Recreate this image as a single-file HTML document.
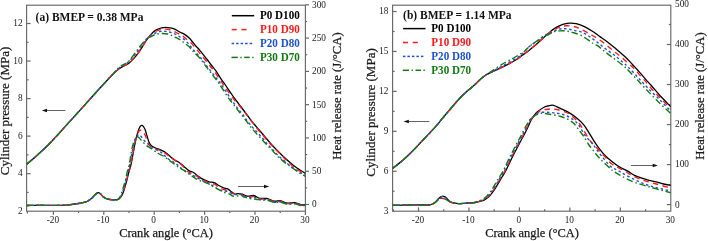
<!DOCTYPE html>
<html><head><meta charset="utf-8"><style>
html,body{margin:0;padding:0;background:#fff;width:708px;height:241px;overflow:hidden}
svg{display:block;will-change:transform}
text{font-family:"Liberation Serif", serif}
</style></head><body>
<svg width="708" height="241" viewBox="0 0 708 241">
<rect width="708" height="241" fill="#fff"/>
<rect x="26.60" y="5.20" width="278.80" height="206.00" fill="none" stroke="#686868" stroke-width="1.15"/>
<line x1="27.40" y1="211.20" x2="27.40" y2="213.40" stroke="#686868" stroke-width="1.2"/>
<line x1="53.40" y1="211.20" x2="53.40" y2="214.70" stroke="#686868" stroke-width="1.2"/>
<line x1="78.60" y1="211.20" x2="78.60" y2="213.00" stroke="#686868" stroke-width="1.2"/>
<line x1="103.80" y1="211.20" x2="103.80" y2="214.70" stroke="#686868" stroke-width="1.2"/>
<line x1="129.00" y1="211.20" x2="129.00" y2="213.00" stroke="#686868" stroke-width="1.2"/>
<line x1="154.20" y1="211.20" x2="154.20" y2="214.70" stroke="#686868" stroke-width="1.2"/>
<line x1="179.40" y1="211.20" x2="179.40" y2="213.00" stroke="#686868" stroke-width="1.2"/>
<line x1="204.60" y1="211.20" x2="204.60" y2="214.70" stroke="#686868" stroke-width="1.2"/>
<line x1="229.80" y1="211.20" x2="229.80" y2="213.00" stroke="#686868" stroke-width="1.2"/>
<line x1="255.00" y1="211.20" x2="255.00" y2="214.70" stroke="#686868" stroke-width="1.2"/>
<line x1="280.20" y1="211.20" x2="280.20" y2="213.00" stroke="#686868" stroke-width="1.2"/>
<line x1="305.40" y1="211.20" x2="305.40" y2="215.00" stroke="#686868" stroke-width="1.2"/>
<text x="52.90" y="222.60" font-size="9.3" text-anchor="middle" font-weight="normal" fill="#1a1a1a">-20</text>
<text x="103.30" y="222.60" font-size="9.3" text-anchor="middle" font-weight="normal" fill="#1a1a1a">-10</text>
<text x="153.70" y="222.60" font-size="9.3" text-anchor="middle" font-weight="normal" fill="#1a1a1a">0</text>
<text x="204.10" y="222.60" font-size="9.3" text-anchor="middle" font-weight="normal" fill="#1a1a1a">10</text>
<text x="254.50" y="222.60" font-size="9.3" text-anchor="middle" font-weight="normal" fill="#1a1a1a">20</text>
<text x="304.90" y="222.60" font-size="9.3" text-anchor="middle" font-weight="normal" fill="#1a1a1a">30</text>
<line x1="26.60" y1="192.43" x2="28.60" y2="192.43" stroke="#686868" stroke-width="1.2"/>
<line x1="26.60" y1="173.66" x2="30.60" y2="173.66" stroke="#686868" stroke-width="1.2"/>
<line x1="26.60" y1="154.89" x2="28.60" y2="154.89" stroke="#686868" stroke-width="1.2"/>
<line x1="26.60" y1="136.12" x2="30.60" y2="136.12" stroke="#686868" stroke-width="1.2"/>
<line x1="26.60" y1="117.35" x2="28.60" y2="117.35" stroke="#686868" stroke-width="1.2"/>
<line x1="26.60" y1="98.58" x2="30.60" y2="98.58" stroke="#686868" stroke-width="1.2"/>
<line x1="26.60" y1="79.81" x2="28.60" y2="79.81" stroke="#686868" stroke-width="1.2"/>
<line x1="26.60" y1="61.04" x2="30.60" y2="61.04" stroke="#686868" stroke-width="1.2"/>
<line x1="26.60" y1="42.27" x2="28.60" y2="42.27" stroke="#686868" stroke-width="1.2"/>
<line x1="26.60" y1="23.50" x2="30.60" y2="23.50" stroke="#686868" stroke-width="1.2"/>
<text x="22.60" y="214.00" font-size="9.3" text-anchor="end" font-weight="normal" fill="#1a1a1a">2</text>
<text x="22.60" y="176.46" font-size="9.3" text-anchor="end" font-weight="normal" fill="#1a1a1a">4</text>
<text x="22.60" y="138.92" font-size="9.3" text-anchor="end" font-weight="normal" fill="#1a1a1a">6</text>
<text x="22.60" y="101.38" font-size="9.3" text-anchor="end" font-weight="normal" fill="#1a1a1a">8</text>
<text x="22.60" y="63.84" font-size="9.3" text-anchor="end" font-weight="normal" fill="#1a1a1a">10</text>
<text x="22.60" y="26.30" font-size="9.3" text-anchor="end" font-weight="normal" fill="#1a1a1a">12</text>
<line x1="305.40" y1="204.50" x2="309.00" y2="204.50" stroke="#686868" stroke-width="1.2"/>
<line x1="305.40" y1="187.86" x2="307.20" y2="187.86" stroke="#686868" stroke-width="1.2"/>
<line x1="305.40" y1="171.22" x2="309.00" y2="171.22" stroke="#686868" stroke-width="1.2"/>
<line x1="305.40" y1="154.58" x2="307.20" y2="154.58" stroke="#686868" stroke-width="1.2"/>
<line x1="305.40" y1="137.94" x2="309.00" y2="137.94" stroke="#686868" stroke-width="1.2"/>
<line x1="305.40" y1="121.30" x2="307.20" y2="121.30" stroke="#686868" stroke-width="1.2"/>
<line x1="305.40" y1="104.66" x2="309.00" y2="104.66" stroke="#686868" stroke-width="1.2"/>
<line x1="305.40" y1="88.02" x2="307.20" y2="88.02" stroke="#686868" stroke-width="1.2"/>
<line x1="305.40" y1="71.38" x2="309.00" y2="71.38" stroke="#686868" stroke-width="1.2"/>
<line x1="305.40" y1="54.74" x2="307.20" y2="54.74" stroke="#686868" stroke-width="1.2"/>
<line x1="305.40" y1="38.10" x2="309.00" y2="38.10" stroke="#686868" stroke-width="1.2"/>
<line x1="305.40" y1="21.46" x2="307.20" y2="21.46" stroke="#686868" stroke-width="1.2"/>
<line x1="305.40" y1="4.82" x2="309.00" y2="4.82" stroke="#686868" stroke-width="1.2"/>
<text x="312.00" y="207.40" font-size="9.3" text-anchor="start" font-weight="normal" fill="#1a1a1a">0</text>
<text x="312.00" y="174.12" font-size="9.3" text-anchor="start" font-weight="normal" fill="#1a1a1a">50</text>
<text x="312.00" y="140.84" font-size="9.3" text-anchor="start" font-weight="normal" fill="#1a1a1a">100</text>
<text x="312.00" y="107.56" font-size="9.3" text-anchor="start" font-weight="normal" fill="#1a1a1a">150</text>
<text x="312.00" y="74.28" font-size="9.3" text-anchor="start" font-weight="normal" fill="#1a1a1a">200</text>
<text x="312.00" y="41.00" font-size="9.3" text-anchor="start" font-weight="normal" fill="#1a1a1a">250</text>
<text x="312.00" y="7.72" font-size="9.3" text-anchor="start" font-weight="normal" fill="#1a1a1a">300</text>
<text x="9.20" y="111.00" font-size="13" text-anchor="middle" font-weight="normal" fill="#1a1a1a" stroke="#1a1a1a" stroke-width="0.25" transform="rotate(-90 9.20 111.00)">Cylinder pressure (MPa)</text>
<text x="341.20" y="96.00" font-size="12.7" text-anchor="middle" font-weight="normal" fill="#1a1a1a" stroke="#1a1a1a" stroke-width="0.25" transform="rotate(-90 341.20 96.00)">Heat release rate (J/°CA)</text>
<text x="166.00" y="237.40" font-size="12.4" text-anchor="middle" font-weight="normal" fill="#1a1a1a" stroke="#1a1a1a" stroke-width="0.25">Crank angle (°CA)</text>
<text x="35.60" y="20.90" font-size="11.5" text-anchor="start" font-weight="bold" fill="#111">(a) BMEP = 0.38 MPa</text>
<line x1="231.80" y1="15.70" x2="254.20" y2="15.70" stroke="#000000" stroke-width="1.5"/>
<text x="260.00" y="19.10" font-size="11.1" text-anchor="start" font-weight="bold" fill="#000000" transform="translate(260.00 19.10) scale(1 1.09) translate(-260.00 -19.10)">P0 D100</text>
<line x1="231.70" y1="29.60" x2="236.70" y2="29.60" stroke="#ff1a1a" stroke-width="1.5"/>
<line x1="241.40" y1="29.60" x2="246.50" y2="29.60" stroke="#ff1a1a" stroke-width="1.5"/>
<text x="260.00" y="33.00" font-size="11.1" text-anchor="start" font-weight="bold" fill="#ff1a1a" transform="translate(260.00 33.00) scale(1 1.09) translate(-260.00 -33.00)">P10 D90</text>
<line x1="231.60" y1="43.50" x2="234.10" y2="43.50" stroke="#1f52cc" stroke-width="1.5"/>
<line x1="236.10" y1="43.50" x2="238.60" y2="43.50" stroke="#1f52cc" stroke-width="1.5"/>
<line x1="240.60" y1="43.50" x2="243.10" y2="43.50" stroke="#1f52cc" stroke-width="1.5"/>
<line x1="245.10" y1="43.50" x2="247.60" y2="43.50" stroke="#1f52cc" stroke-width="1.5"/>
<line x1="249.60" y1="43.50" x2="252.10" y2="43.50" stroke="#1f52cc" stroke-width="1.5"/>
<text x="260.00" y="46.90" font-size="11.1" text-anchor="start" font-weight="bold" fill="#1f52cc" transform="translate(260.00 46.90) scale(1 1.09) translate(-260.00 -46.90)">P20 D80</text>
<line x1="231.50" y1="57.40" x2="237.80" y2="57.40" stroke="#137a13" stroke-width="1.5"/>
<line x1="240.30" y1="57.40" x2="241.60" y2="57.40" stroke="#137a13" stroke-width="1.5"/>
<line x1="244.20" y1="57.40" x2="249.70" y2="57.40" stroke="#137a13" stroke-width="1.5"/>
<line x1="252.20" y1="57.40" x2="253.50" y2="57.40" stroke="#137a13" stroke-width="1.5"/>
<text x="260.00" y="60.80" font-size="11.1" text-anchor="start" font-weight="bold" fill="#137a13" transform="translate(260.00 60.80) scale(1 1.09) translate(-260.00 -60.80)">P30 D70</text>
<line x1="44.80" y1="110.50" x2="65.40" y2="110.50" stroke="#505050" stroke-width="0.9"/>
<path d="M41.80,110.50 L47.00,108.80 L47.00,112.20 Z" fill="#111"/>
<line x1="238.10" y1="186.50" x2="266.20" y2="186.50" stroke="#505050" stroke-width="0.9"/>
<path d="M269.20,186.50 L264.00,184.80 L264.00,188.20 Z" fill="#111"/>
<clipPath id="ca"><rect x="26.6" y="5.2" width="278.8" height="206"/></clipPath>
<clipPath id="cb"><rect x="392.6" y="5.2" width="278.2" height="206"/></clipPath>
<path d="M26.60,164.30 C28.42,162.73 33.62,158.42 37.50,154.90 C41.38,151.38 45.12,148.12 49.90,143.20 C54.68,138.28 61.08,131.00 66.20,125.40 C71.32,119.80 76.13,114.53 80.60,109.60 C85.07,104.67 89.35,99.85 93.00,95.80 C96.65,91.75 99.18,88.90 102.50,85.30 C105.82,81.70 110.20,76.90 112.90,74.20 C115.60,71.50 116.77,70.55 118.70,69.10 C120.63,67.65 122.80,66.47 124.50,65.50 C126.20,64.53 127.43,64.40 128.90,63.30 C130.37,62.20 131.85,60.48 133.30,58.90 C134.75,57.32 136.15,55.73 137.60,53.80 C139.05,51.87 140.68,49.35 142.00,47.30 C143.32,45.25 144.30,43.28 145.50,41.50 C146.70,39.72 147.90,38.20 149.20,36.60 C150.50,35.00 151.92,33.12 153.30,31.90 C154.68,30.68 156.12,29.98 157.50,29.30 C158.88,28.62 160.22,28.13 161.60,27.80 C162.98,27.47 164.42,27.30 165.80,27.30 C167.18,27.30 168.52,27.55 169.90,27.80 C171.28,28.05 172.75,28.27 174.10,28.80 C175.45,29.33 176.85,30.37 178.00,31.00 C179.15,31.63 179.83,32.00 181.00,32.60 C182.17,33.20 183.50,33.58 185.00,34.60 C186.50,35.62 188.33,36.97 190.00,38.70 C191.67,40.43 193.33,43.02 195.00,45.00 C196.67,46.98 198.33,48.62 200.00,50.60 C201.67,52.58 203.75,55.33 205.00,56.90 C206.25,58.47 206.47,58.65 207.50,60.00 C208.53,61.35 209.85,63.27 211.20,65.00 C212.55,66.73 214.13,68.35 215.60,70.40 C217.07,72.45 218.37,74.87 220.00,77.30 C221.63,79.73 223.37,82.05 225.40,85.00 C227.43,87.95 230.27,92.25 232.20,95.00 C234.13,97.75 235.45,99.42 237.00,101.50 C238.55,103.58 240.00,105.50 241.50,107.50 C243.00,109.50 244.53,111.52 246.00,113.50 C247.47,115.48 248.88,117.57 250.30,119.40 C251.72,121.23 253.02,122.73 254.50,124.50 C255.98,126.27 257.45,127.95 259.20,130.00 C260.95,132.05 263.10,134.55 265.00,136.80 C266.90,139.05 268.77,141.42 270.60,143.50 C272.43,145.58 274.10,147.35 276.00,149.30 C277.90,151.25 279.67,153.00 282.00,155.20 C284.33,157.40 287.63,160.45 290.00,162.50 C292.37,164.55 293.63,165.68 296.20,167.50 C298.77,169.32 303.87,172.42 305.40,173.40" fill="none" stroke="#000000" stroke-width="1.3" stroke-linejoin="round" clip-path="url(#ca)"/>
<path d="M26.60,164.30 C28.42,162.73 33.62,158.42 37.50,154.90 C41.38,151.38 45.12,148.12 49.90,143.20 C54.68,138.28 61.08,131.00 66.20,125.40 C71.32,119.80 76.13,114.53 80.60,109.60 C85.07,104.67 89.35,99.85 93.00,95.80 C96.65,91.75 99.18,88.90 102.50,85.30 C105.82,81.70 110.20,76.90 112.90,74.20 C115.60,71.50 116.77,70.55 118.70,69.10 C120.63,67.65 122.80,66.47 124.50,65.50 C126.20,64.53 127.43,64.40 128.90,63.30 C130.37,62.20 131.85,60.48 133.30,58.90 C134.75,57.32 136.15,55.73 137.60,53.80 C139.05,51.87 140.68,49.30 142.00,47.30 C143.32,45.30 144.42,43.43 145.50,41.80 C146.58,40.17 147.55,38.72 148.50,37.50 C149.45,36.28 150.05,35.52 151.20,34.50 C152.35,33.48 153.67,32.27 155.40,31.40 C157.13,30.53 159.87,29.68 161.60,29.30 C163.33,28.92 164.07,28.92 165.80,29.10 C167.53,29.28 170.27,29.83 172.00,30.40 C173.73,30.97 174.87,31.80 176.20,32.50 C177.53,33.20 178.95,34.05 180.00,34.60 C181.05,35.15 181.50,35.10 182.50,35.80 C183.50,36.50 184.55,37.58 186.00,38.80 C187.45,40.02 189.70,41.65 191.20,43.10 C192.70,44.55 193.75,46.03 195.00,47.50 C196.25,48.97 197.67,50.65 198.70,51.90 C199.73,53.15 199.95,53.48 201.20,55.00 C202.45,56.52 204.65,59.08 206.20,61.00 C207.75,62.92 209.12,64.77 210.50,66.50 C211.88,68.23 212.78,69.02 214.50,71.40 C216.22,73.78 218.88,77.95 220.80,80.80 C222.72,83.65 223.68,85.27 226.00,88.50 C228.32,91.73 231.77,96.52 234.70,100.20 C237.63,103.88 241.17,107.55 243.60,110.60 C246.03,113.65 246.90,115.35 249.30,118.50 C251.70,121.65 255.55,126.50 258.00,129.50 C260.45,132.50 262.00,134.17 264.00,136.50 C266.00,138.83 268.00,141.28 270.00,143.50 C272.00,145.72 274.00,147.75 276.00,149.80 C278.00,151.85 280.08,153.90 282.00,155.80 C283.92,157.70 285.13,159.00 287.50,161.20 C289.87,163.40 293.22,166.87 296.20,169.00 C299.18,171.13 303.87,173.17 305.40,174.00" fill="none" stroke="#ff1a1a" stroke-width="1.4" stroke-dasharray="5.5 4.3" stroke-linejoin="round" clip-path="url(#ca)"/>
<path d="M26.60,164.30 C28.42,162.73 33.62,158.42 37.50,154.90 C41.38,151.38 45.12,148.12 49.90,143.20 C54.68,138.28 61.08,131.00 66.20,125.40 C71.32,119.80 76.13,114.53 80.60,109.60 C85.07,104.67 89.35,99.85 93.00,95.80 C96.65,91.75 99.18,88.90 102.50,85.30 C105.82,81.70 110.20,77.00 112.90,74.20 C115.60,71.40 116.77,70.12 118.70,68.50 C120.63,66.88 122.80,65.67 124.50,64.50 C126.20,63.33 127.43,62.83 128.90,61.50 C130.37,60.17 131.85,58.25 133.30,56.50 C134.75,54.75 136.15,52.92 137.60,51.00 C139.05,49.08 140.60,46.92 142.00,45.00 C143.40,43.08 144.80,40.90 146.00,39.50 C147.20,38.10 148.20,37.43 149.20,36.60 C150.20,35.77 150.97,35.10 152.00,34.50 C153.03,33.90 153.97,33.52 155.40,33.00 C156.83,32.48 158.87,31.67 160.60,31.40 C162.33,31.13 164.07,31.22 165.80,31.40 C167.53,31.58 169.27,31.98 171.00,32.50 C172.73,33.02 174.70,33.75 176.20,34.50 C177.70,35.25 178.63,36.15 180.00,37.00 C181.37,37.85 182.95,38.43 184.40,39.60 C185.85,40.77 187.43,42.55 188.70,44.00 C189.97,45.45 190.75,46.80 192.00,48.30 C193.25,49.80 194.87,51.52 196.20,53.00 C197.53,54.48 198.77,55.77 200.00,57.20 C201.23,58.63 202.48,60.13 203.60,61.60 C204.72,63.07 205.57,64.50 206.70,66.00 C207.83,67.50 209.18,69.07 210.40,70.60 C211.62,72.13 212.88,73.77 214.00,75.20 C215.12,76.63 215.97,77.75 217.10,79.20 C218.23,80.65 219.48,82.10 220.80,83.90 C222.12,85.70 223.53,87.80 225.00,90.00 C226.47,92.20 228.32,95.17 229.60,97.10 C230.88,99.03 231.58,100.05 232.70,101.60 C233.82,103.15 235.18,104.90 236.30,106.40 C237.42,107.90 238.27,109.17 239.40,110.60 C240.53,112.03 241.97,113.53 243.10,115.00 C244.23,116.47 244.88,117.65 246.20,119.40 C247.52,121.15 249.18,123.35 251.00,125.50 C252.82,127.65 255.13,130.13 257.10,132.30 C259.07,134.47 261.25,136.72 262.80,138.50 C264.35,140.28 265.18,141.57 266.40,143.00 C267.62,144.43 268.80,145.72 270.10,147.10 C271.40,148.48 272.88,149.92 274.20,151.30 C275.52,152.68 276.62,154.05 278.00,155.40 C279.38,156.75 281.02,158.12 282.50,159.40 C283.98,160.68 285.45,161.85 286.90,163.10 C288.35,164.35 289.65,165.75 291.20,166.90 C292.75,168.05 294.53,168.97 296.20,170.00 C297.87,171.03 299.67,172.30 301.20,173.10 C302.73,173.90 304.70,174.52 305.40,174.80" fill="none" stroke="#1f52cc" stroke-width="1.4" stroke-dasharray="2.5 2.6" stroke-linejoin="round" clip-path="url(#ca)"/>
<path d="M26.60,164.30 C28.42,162.73 33.62,158.42 37.50,154.90 C41.38,151.38 45.12,148.12 49.90,143.20 C54.68,138.28 61.08,131.00 66.20,125.40 C71.32,119.80 76.13,114.53 80.60,109.60 C85.07,104.67 89.35,99.85 93.00,95.80 C96.65,91.75 99.18,88.90 102.50,85.30 C105.82,81.70 110.20,77.13 112.90,74.20 C115.60,71.27 116.77,69.40 118.70,67.70 C120.63,66.00 123.03,64.87 124.50,64.00 C125.97,63.13 126.28,63.58 127.50,62.50 C128.72,61.42 130.35,59.32 131.80,57.50 C133.25,55.68 134.75,53.55 136.20,51.60 C137.65,49.65 139.03,47.65 140.50,45.80 C141.97,43.95 143.75,41.77 145.00,40.50 C146.25,39.23 146.97,38.85 148.00,38.20 C149.03,37.55 149.97,37.22 151.20,36.60 C152.43,35.98 153.67,35.02 155.40,34.50 C157.13,33.98 159.53,33.58 161.60,33.50 C163.67,33.42 166.07,33.65 167.80,34.00 C169.53,34.35 170.60,34.98 172.00,35.60 C173.40,36.22 174.87,37.03 176.20,37.70 C177.53,38.37 178.75,38.80 180.00,39.60 C181.25,40.40 182.25,41.38 183.70,42.50 C185.15,43.62 187.32,45.05 188.70,46.30 C190.08,47.55 190.95,48.85 192.00,50.00 C193.05,51.15 193.67,51.82 195.00,53.20 C196.33,54.58 198.30,56.28 200.00,58.30 C201.70,60.32 203.73,63.35 205.20,65.30 C206.67,67.25 207.58,68.38 208.80,70.00 C210.02,71.62 211.37,73.52 212.50,75.00 C213.63,76.48 214.57,77.53 215.60,78.90 C216.63,80.27 217.47,81.43 218.70,83.20 C219.93,84.97 221.37,87.02 223.00,89.50 C224.63,91.98 226.97,95.88 228.50,98.10 C230.03,100.32 230.98,101.23 232.20,102.80 C233.42,104.37 234.75,106.13 235.80,107.50 C236.85,108.87 237.55,109.80 238.50,111.00 C239.45,112.20 240.40,113.30 241.50,114.70 C242.60,116.10 243.68,117.52 245.10,119.40 C246.52,121.28 248.18,123.72 250.00,126.00 C251.82,128.28 253.95,130.78 256.00,133.10 C258.05,135.42 260.38,137.82 262.30,139.90 C264.22,141.98 266.12,144.18 267.50,145.60 C268.88,147.02 269.43,147.20 270.60,148.40 C271.77,149.60 273.15,151.32 274.50,152.80 C275.85,154.28 277.37,156.00 278.70,157.30 C280.03,158.60 280.62,159.12 282.50,160.60 C284.38,162.08 288.13,164.85 290.00,166.20 C291.87,167.55 292.35,167.73 293.70,168.70 C295.05,169.67 296.80,171.07 298.10,172.00 C299.40,172.93 300.28,173.58 301.50,174.30 C302.72,175.02 304.75,175.97 305.40,176.30" fill="none" stroke="#137a13" stroke-width="1.4" stroke-dasharray="6.5 2.8 1.5 2.8" stroke-linejoin="round" clip-path="url(#ca)"/>
<path d="M26.60,205.50 C28.42,205.47 32.58,205.32 37.50,205.30 C42.42,205.28 52.15,205.40 56.10,205.40 C60.05,205.40 59.12,205.40 61.20,205.30 C63.28,205.20 66.30,205.02 68.60,204.80 C70.90,204.58 73.10,204.27 75.00,204.00 C76.90,203.73 78.15,203.55 80.00,203.20 C81.85,202.85 84.68,202.33 86.10,201.90 C87.52,201.47 87.72,201.08 88.50,200.60 C89.28,200.12 90.13,199.50 90.80,199.00 C91.47,198.50 91.87,198.23 92.50,197.60 C93.13,196.97 93.68,196.03 94.60,195.20 C95.52,194.37 97.02,192.82 98.00,192.60 C98.98,192.38 99.70,193.27 100.50,193.90 C101.30,194.53 101.93,195.67 102.80,196.40 C103.67,197.13 104.52,197.78 105.70,198.30 C106.88,198.82 108.37,199.25 109.90,199.50 C111.43,199.75 113.63,199.78 114.90,199.80 C116.17,199.82 116.65,199.92 117.50,199.60 C118.35,199.28 119.27,198.58 120.00,197.90 C120.73,197.22 121.28,196.65 121.90,195.50 C122.52,194.35 123.17,192.52 123.70,191.00 C124.23,189.48 124.57,188.23 125.10,186.40 C125.63,184.57 126.32,182.23 126.90,180.00 C127.48,177.77 127.92,175.58 128.60,173.00 C129.28,170.42 130.22,167.92 131.00,164.50 C131.78,161.08 132.72,155.58 133.30,152.50 C133.88,149.42 134.02,148.42 134.50,146.00 C134.98,143.58 135.57,140.57 136.20,138.00 C136.83,135.43 137.67,132.50 138.30,130.60 C138.93,128.70 139.43,127.48 140.00,126.60 C140.57,125.72 141.15,125.35 141.70,125.30 C142.25,125.25 142.75,125.63 143.30,126.30 C143.85,126.97 144.45,127.93 145.00,129.30 C145.55,130.67 145.92,132.30 146.60,134.50 C147.28,136.70 148.33,140.67 149.10,142.50 C149.87,144.33 150.53,144.80 151.20,145.50 C151.87,146.20 152.27,146.23 153.10,146.70 C153.93,147.17 154.98,147.77 156.20,148.30 C157.42,148.83 158.83,149.20 160.40,149.90 C161.97,150.60 164.05,151.47 165.60,152.50 C167.15,153.53 168.32,154.90 169.70,156.10 C171.08,157.30 172.52,158.75 173.90,159.70 C175.28,160.65 176.65,160.95 178.00,161.80 C179.35,162.65 180.97,163.98 182.00,164.80 C183.03,165.62 182.98,165.68 184.20,166.70 C185.42,167.72 187.75,169.93 189.30,170.90 C190.85,171.87 191.93,171.55 193.50,172.50 C195.07,173.45 196.97,175.40 198.70,176.60 C200.43,177.80 202.17,178.83 203.90,179.70 C205.63,180.57 207.38,181.32 209.10,181.80 C210.82,182.28 212.67,182.02 214.20,182.60 C215.73,183.18 216.75,184.42 218.30,185.30 C219.85,186.18 221.93,187.30 223.50,187.90 C225.07,188.50 226.32,188.22 227.70,188.90 C229.08,189.58 230.60,191.13 231.80,192.00 C233.00,192.87 233.87,193.83 234.90,194.10 C235.93,194.37 236.78,193.60 238.00,193.60 C239.22,193.60 240.63,193.67 242.20,194.10 C243.77,194.53 245.48,195.97 247.40,196.20 C249.32,196.43 251.62,195.13 253.70,195.50 C255.78,195.87 257.77,197.92 259.90,198.40 C262.03,198.88 264.07,197.93 266.50,198.40 C268.93,198.87 272.27,200.82 274.50,201.20 C276.73,201.58 277.82,200.38 279.90,200.70 C281.98,201.02 284.52,202.77 287.00,203.10 C289.48,203.43 292.45,202.40 294.80,202.70 C297.15,203.00 299.33,204.57 301.10,204.90 C302.87,205.23 304.68,204.73 305.40,204.70" fill="none" stroke="#000000" stroke-width="1.3" stroke-linejoin="round" clip-path="url(#ca)"/>
<path d="M26.60,205.50 C28.42,205.47 32.58,205.32 37.50,205.30 C42.42,205.28 52.15,205.40 56.10,205.40 C60.05,205.40 59.12,205.40 61.20,205.30 C63.28,205.20 66.30,205.02 68.60,204.80 C70.90,204.58 73.10,204.27 75.00,204.00 C76.90,203.73 78.15,203.55 80.00,203.20 C81.85,202.85 84.68,202.33 86.10,201.90 C87.52,201.47 87.72,201.08 88.50,200.60 C89.28,200.12 90.13,199.50 90.80,199.00 C91.47,198.50 91.87,198.23 92.50,197.60 C93.13,196.97 93.68,196.03 94.60,195.20 C95.52,194.37 97.02,192.82 98.00,192.60 C98.98,192.38 99.70,193.27 100.50,193.90 C101.30,194.53 101.93,195.67 102.80,196.40 C103.67,197.13 104.52,197.78 105.70,198.30 C106.88,198.82 108.37,199.25 109.90,199.50 C111.43,199.75 113.68,199.78 114.90,199.80 C116.12,199.82 116.40,199.92 117.20,199.60 C118.00,199.28 118.97,198.58 119.70,197.90 C120.43,197.22 120.98,196.65 121.60,195.50 C122.22,194.35 122.87,192.52 123.40,191.00 C123.93,189.48 124.27,188.23 124.80,186.40 C125.33,184.57 126.02,182.23 126.60,180.00 C127.18,177.77 127.62,175.58 128.30,173.00 C128.98,170.42 129.92,167.92 130.70,164.50 C131.48,161.08 132.42,155.58 133.00,152.50 C133.58,149.42 133.77,148.08 134.20,146.00 C134.63,143.92 135.05,142.00 135.60,140.00 C136.15,138.00 136.93,135.50 137.50,134.00 C138.07,132.50 138.52,131.63 139.00,131.00 C139.48,130.37 139.90,130.23 140.40,130.20 C140.90,130.17 141.43,130.37 142.00,130.80 C142.57,131.23 143.22,131.93 143.80,132.80 C144.38,133.67 144.92,134.63 145.50,136.00 C146.08,137.37 146.57,139.33 147.30,141.00 C148.03,142.67 148.93,144.92 149.90,146.00 C150.87,147.08 151.92,146.95 153.10,147.50 C154.28,148.05 155.78,148.82 157.00,149.30 C158.22,149.78 159.48,149.97 160.40,150.40 C161.32,150.83 161.57,151.33 162.50,151.90 C163.43,152.47 164.80,153.02 166.00,153.80 C167.20,154.58 168.73,155.95 169.70,156.60 C170.67,157.25 170.83,157.05 171.80,157.70 C172.77,158.35 174.28,159.65 175.50,160.50 C176.72,161.35 178.15,162.15 179.10,162.80 C180.05,163.45 180.30,163.57 181.20,164.40 C182.10,165.23 183.32,166.55 184.50,167.80 C185.68,169.05 186.72,170.83 188.30,171.90 C189.88,172.97 191.92,173.07 194.00,174.20 C196.08,175.33 198.88,177.53 200.80,178.70 C202.72,179.87 203.95,180.42 205.50,181.20 C207.05,181.98 208.60,182.90 210.10,183.40 C211.60,183.90 212.97,183.45 214.50,184.20 C216.03,184.95 217.72,187.02 219.30,187.90 C220.88,188.78 222.43,188.98 224.00,189.50 C225.57,190.02 227.20,190.32 228.70,191.00 C230.20,191.68 231.62,193.08 233.00,193.60 C234.38,194.12 235.67,193.93 237.00,194.10 C238.33,194.27 239.27,194.12 241.00,194.60 C242.73,195.08 245.28,196.68 247.40,197.00 C249.52,197.32 251.60,196.17 253.70,196.50 C255.80,196.83 257.92,198.60 260.00,199.00 C262.08,199.40 263.72,198.45 266.20,198.90 C268.68,199.35 272.62,201.30 274.90,201.70 C277.18,202.10 277.82,201.00 279.90,201.30 C281.98,201.60 284.92,203.18 287.40,203.50 C289.88,203.82 292.52,202.90 294.80,203.20 C297.08,203.50 299.33,205.00 301.10,205.30 C302.87,205.60 304.68,205.05 305.40,205.00" fill="none" stroke="#ff1a1a" stroke-width="1.4" stroke-dasharray="5.5 4.3" stroke-linejoin="round" clip-path="url(#ca)"/>
<path d="M26.60,205.50 C28.42,205.47 32.58,205.32 37.50,205.30 C42.42,205.28 52.15,205.40 56.10,205.40 C60.05,205.40 59.12,205.40 61.20,205.30 C63.28,205.20 66.30,205.02 68.60,204.80 C70.90,204.58 73.10,204.27 75.00,204.00 C76.90,203.73 78.15,203.55 80.00,203.20 C81.85,202.85 84.68,202.33 86.10,201.90 C87.52,201.47 87.72,201.08 88.50,200.60 C89.28,200.12 90.13,199.50 90.80,199.00 C91.47,198.50 91.87,198.23 92.50,197.60 C93.13,196.97 93.68,196.03 94.60,195.20 C95.52,194.37 97.02,192.82 98.00,192.60 C98.98,192.38 99.70,193.27 100.50,193.90 C101.30,194.53 101.93,195.67 102.80,196.40 C103.67,197.13 104.52,197.78 105.70,198.30 C106.88,198.82 108.37,199.25 109.90,199.50 C111.43,199.75 113.63,199.78 114.90,199.80 C116.17,199.82 116.68,199.92 117.50,199.60 C118.32,199.28 119.15,198.58 119.80,197.90 C120.45,197.22 120.88,196.65 121.40,195.50 C121.92,194.35 122.43,192.52 122.90,191.00 C123.37,189.48 123.68,188.23 124.20,186.40 C124.72,184.57 125.43,182.23 126.00,180.00 C126.57,177.77 126.95,175.58 127.60,173.00 C128.25,170.42 129.17,167.92 129.90,164.50 C130.63,161.08 131.12,156.58 132.00,152.50 C132.88,148.42 134.33,142.72 135.20,140.00 C136.07,137.28 136.55,137.07 137.20,136.20 C137.85,135.33 138.47,134.80 139.10,134.80 C139.73,134.80 140.30,135.40 141.00,136.20 C141.70,137.00 142.37,138.53 143.30,139.60 C144.23,140.67 145.48,141.58 146.60,142.60 C147.72,143.62 148.73,144.67 150.00,145.70 C151.27,146.73 152.47,147.77 154.20,148.80 C155.93,149.83 158.68,150.77 160.40,151.90 C162.12,153.03 163.12,154.38 164.50,155.60 C165.88,156.82 167.13,158.08 168.70,159.20 C170.27,160.32 172.52,161.43 173.90,162.30 C175.28,163.17 175.98,163.57 177.00,164.40 C178.02,165.23 178.47,166.05 180.00,167.30 C181.53,168.55 184.53,170.80 186.20,171.90 C187.87,173.00 188.62,173.20 190.00,173.90 C191.38,174.60 192.88,175.22 194.50,176.10 C196.12,176.98 197.78,178.17 199.70,179.20 C201.62,180.23 204.37,181.50 206.00,182.30 C207.63,183.10 208.32,183.42 209.50,184.00 C210.68,184.58 211.85,185.05 213.10,185.80 C214.35,186.55 215.62,187.70 217.00,188.50 C218.38,189.30 219.80,190.15 221.40,190.60 C223.00,191.05 225.00,190.80 226.60,191.20 C228.20,191.60 229.43,192.43 231.00,193.00 C232.57,193.57 234.48,194.42 236.00,194.60 C237.52,194.78 238.20,193.60 240.10,194.10 C242.00,194.60 245.13,197.07 247.40,197.60 C249.67,198.13 251.60,196.98 253.70,197.30 C255.80,197.62 257.92,199.13 260.00,199.50 C262.08,199.87 263.72,199.05 266.20,199.50 C268.68,199.95 272.62,201.82 274.90,202.20 C277.18,202.58 277.82,201.53 279.90,201.80 C281.98,202.07 284.92,203.50 287.40,203.80 C289.88,204.10 292.52,203.32 294.80,203.60 C297.08,203.88 299.33,205.22 301.10,205.50 C302.87,205.78 304.68,205.33 305.40,205.30" fill="none" stroke="#1f52cc" stroke-width="1.4" stroke-dasharray="2.5 2.6" stroke-linejoin="round" clip-path="url(#ca)"/>
<path d="M26.60,205.50 C28.42,205.47 32.58,205.32 37.50,205.30 C42.42,205.28 52.15,205.40 56.10,205.40 C60.05,205.40 59.12,205.40 61.20,205.30 C63.28,205.20 66.30,205.02 68.60,204.80 C70.90,204.58 73.10,204.27 75.00,204.00 C76.90,203.73 78.15,203.55 80.00,203.20 C81.85,202.85 84.68,202.33 86.10,201.90 C87.52,201.47 87.72,201.08 88.50,200.60 C89.28,200.12 90.13,199.50 90.80,199.00 C91.47,198.50 91.87,198.23 92.50,197.60 C93.13,196.97 93.68,196.03 94.60,195.20 C95.52,194.37 97.02,192.82 98.00,192.60 C98.98,192.38 99.70,193.27 100.50,193.90 C101.30,194.53 101.93,195.67 102.80,196.40 C103.67,197.13 104.52,197.78 105.70,198.30 C106.88,198.82 108.37,199.25 109.90,199.50 C111.43,199.75 113.67,199.78 114.90,199.80 C116.13,199.82 116.53,199.97 117.30,199.60 C118.07,199.23 118.95,198.28 119.50,197.60 C120.05,196.92 120.15,196.60 120.60,195.50 C121.05,194.40 121.70,192.52 122.20,191.00 C122.70,189.48 123.07,188.23 123.60,186.40 C124.13,184.57 124.83,182.23 125.40,180.00 C125.97,177.77 126.37,175.58 127.00,173.00 C127.63,170.42 128.42,168.33 129.20,164.50 C129.98,160.67 131.08,153.25 131.70,150.00 C132.32,146.75 132.50,146.43 132.90,145.00 C133.30,143.57 133.68,142.53 134.10,141.40 C134.52,140.27 134.97,139.00 135.40,138.20 C135.83,137.40 136.18,136.75 136.70,136.60 C137.22,136.45 137.87,136.83 138.50,137.30 C139.13,137.77 139.85,138.68 140.50,139.40 C141.15,140.12 141.38,140.57 142.40,141.60 C143.42,142.63 145.33,144.57 146.60,145.60 C147.87,146.63 148.57,146.83 150.00,147.80 C151.43,148.77 153.82,150.45 155.20,151.40 C156.58,152.35 156.92,152.72 158.30,153.50 C159.68,154.28 161.93,155.15 163.50,156.10 C165.07,157.05 166.32,158.17 167.70,159.20 C169.08,160.23 170.42,161.28 171.80,162.30 C173.18,163.32 174.63,164.30 176.00,165.30 C177.37,166.30 178.63,167.45 180.00,168.30 C181.37,169.15 182.78,169.48 184.20,170.40 C185.62,171.32 186.95,172.68 188.50,173.80 C190.05,174.92 191.97,176.12 193.50,177.10 C195.03,178.08 196.28,178.97 197.70,179.70 C199.12,180.43 200.62,180.98 202.00,181.50 C203.38,182.02 204.65,182.28 206.00,182.80 C207.35,183.32 209.02,184.02 210.10,184.60 C211.18,185.18 211.13,185.50 212.50,186.30 C213.87,187.10 216.47,188.45 218.30,189.40 C220.13,190.35 221.60,191.22 223.50,192.00 C225.40,192.78 228.15,193.43 229.70,194.10 C231.25,194.77 231.58,195.68 232.80,196.00 C234.02,196.32 235.60,196.10 237.00,196.00 C238.40,195.90 239.98,195.20 241.20,195.40 C242.42,195.60 242.83,196.68 244.30,197.20 C245.77,197.72 248.05,198.17 250.00,198.50 C251.95,198.83 254.00,198.92 256.00,199.20 C258.00,199.48 260.00,199.98 262.00,200.20 C264.00,200.42 265.85,200.12 268.00,200.50 C270.15,200.88 272.92,202.22 274.90,202.50 C276.88,202.78 277.82,201.95 279.90,202.20 C281.98,202.45 284.92,203.73 287.40,204.00 C289.88,204.27 292.52,203.53 294.80,203.80 C297.08,204.07 299.33,205.35 301.10,205.60 C302.87,205.85 304.68,205.35 305.40,205.30" fill="none" stroke="#137a13" stroke-width="1.4" stroke-dasharray="6.5 2.8 1.5 2.8" stroke-linejoin="round" clip-path="url(#ca)"/>
<rect x="392.60" y="5.20" width="278.20" height="206.00" fill="none" stroke="#686868" stroke-width="1.15"/>
<line x1="393.40" y1="211.20" x2="393.40" y2="209.20" stroke="#686868" stroke-width="1.2"/>
<line x1="418.50" y1="211.20" x2="418.50" y2="207.40" stroke="#686868" stroke-width="1.2"/>
<line x1="443.73" y1="211.20" x2="443.73" y2="209.20" stroke="#686868" stroke-width="1.2"/>
<line x1="468.96" y1="211.20" x2="468.96" y2="207.40" stroke="#686868" stroke-width="1.2"/>
<line x1="494.19" y1="211.20" x2="494.19" y2="209.20" stroke="#686868" stroke-width="1.2"/>
<line x1="519.42" y1="211.20" x2="519.42" y2="207.40" stroke="#686868" stroke-width="1.2"/>
<line x1="544.65" y1="211.20" x2="544.65" y2="209.20" stroke="#686868" stroke-width="1.2"/>
<line x1="569.88" y1="211.20" x2="569.88" y2="207.40" stroke="#686868" stroke-width="1.2"/>
<line x1="595.11" y1="211.20" x2="595.11" y2="209.20" stroke="#686868" stroke-width="1.2"/>
<line x1="620.34" y1="211.20" x2="620.34" y2="207.40" stroke="#686868" stroke-width="1.2"/>
<line x1="645.57" y1="211.20" x2="645.57" y2="209.20" stroke="#686868" stroke-width="1.2"/>
<text x="418.00" y="222.60" font-size="9.3" text-anchor="middle" font-weight="normal" fill="#1a1a1a">-20</text>
<text x="468.46" y="222.60" font-size="9.3" text-anchor="middle" font-weight="normal" fill="#1a1a1a">-10</text>
<text x="518.92" y="222.60" font-size="9.3" text-anchor="middle" font-weight="normal" fill="#1a1a1a">0</text>
<text x="569.38" y="222.60" font-size="9.3" text-anchor="middle" font-weight="normal" fill="#1a1a1a">10</text>
<text x="619.84" y="222.60" font-size="9.3" text-anchor="middle" font-weight="normal" fill="#1a1a1a">20</text>
<text x="670.30" y="222.60" font-size="9.3" text-anchor="middle" font-weight="normal" fill="#1a1a1a">30</text>
<line x1="392.60" y1="191.23" x2="394.60" y2="191.23" stroke="#686868" stroke-width="1.2"/>
<line x1="392.60" y1="171.26" x2="396.60" y2="171.26" stroke="#686868" stroke-width="1.2"/>
<line x1="392.60" y1="151.29" x2="394.60" y2="151.29" stroke="#686868" stroke-width="1.2"/>
<line x1="392.60" y1="131.32" x2="396.60" y2="131.32" stroke="#686868" stroke-width="1.2"/>
<line x1="392.60" y1="111.35" x2="394.60" y2="111.35" stroke="#686868" stroke-width="1.2"/>
<line x1="392.60" y1="91.38" x2="396.60" y2="91.38" stroke="#686868" stroke-width="1.2"/>
<line x1="392.60" y1="71.41" x2="394.60" y2="71.41" stroke="#686868" stroke-width="1.2"/>
<line x1="392.60" y1="51.44" x2="396.60" y2="51.44" stroke="#686868" stroke-width="1.2"/>
<line x1="392.60" y1="31.47" x2="394.60" y2="31.47" stroke="#686868" stroke-width="1.2"/>
<line x1="392.60" y1="11.50" x2="396.60" y2="11.50" stroke="#686868" stroke-width="1.2"/>
<text x="388.40" y="214.00" font-size="9.3" text-anchor="end" font-weight="normal" fill="#1a1a1a">3</text>
<text x="388.40" y="174.06" font-size="9.3" text-anchor="end" font-weight="normal" fill="#1a1a1a">6</text>
<text x="388.40" y="134.12" font-size="9.3" text-anchor="end" font-weight="normal" fill="#1a1a1a">9</text>
<text x="388.40" y="94.18" font-size="9.3" text-anchor="end" font-weight="normal" fill="#1a1a1a">12</text>
<text x="388.40" y="54.24" font-size="9.3" text-anchor="end" font-weight="normal" fill="#1a1a1a">15</text>
<text x="388.40" y="14.30" font-size="9.3" text-anchor="end" font-weight="normal" fill="#1a1a1a">18</text>
<line x1="670.80" y1="204.60" x2="666.80" y2="204.60" stroke="#686868" stroke-width="1.2"/>
<line x1="670.80" y1="184.59" x2="668.80" y2="184.59" stroke="#686868" stroke-width="1.2"/>
<line x1="670.80" y1="164.57" x2="666.80" y2="164.57" stroke="#686868" stroke-width="1.2"/>
<line x1="670.80" y1="144.56" x2="668.80" y2="144.56" stroke="#686868" stroke-width="1.2"/>
<line x1="670.80" y1="124.55" x2="666.80" y2="124.55" stroke="#686868" stroke-width="1.2"/>
<line x1="670.80" y1="104.54" x2="668.80" y2="104.54" stroke="#686868" stroke-width="1.2"/>
<line x1="670.80" y1="84.52" x2="666.80" y2="84.52" stroke="#686868" stroke-width="1.2"/>
<line x1="670.80" y1="64.51" x2="668.80" y2="64.51" stroke="#686868" stroke-width="1.2"/>
<line x1="670.80" y1="44.50" x2="666.80" y2="44.50" stroke="#686868" stroke-width="1.2"/>
<line x1="670.80" y1="24.49" x2="668.80" y2="24.49" stroke="#686868" stroke-width="1.2"/>
<text x="675.00" y="207.50" font-size="9.3" text-anchor="start" font-weight="normal" fill="#1a1a1a">0</text>
<text x="675.00" y="167.47" font-size="9.3" text-anchor="start" font-weight="normal" fill="#1a1a1a">100</text>
<text x="675.00" y="127.45" font-size="9.3" text-anchor="start" font-weight="normal" fill="#1a1a1a">200</text>
<text x="675.00" y="87.42" font-size="9.3" text-anchor="start" font-weight="normal" fill="#1a1a1a">300</text>
<text x="675.00" y="47.40" font-size="9.3" text-anchor="start" font-weight="normal" fill="#1a1a1a">400</text>
<text x="675.00" y="7.37" font-size="9.3" text-anchor="start" font-weight="normal" fill="#1a1a1a">500</text>
<text x="374.90" y="112.50" font-size="13" text-anchor="middle" font-weight="normal" fill="#1a1a1a" stroke="#1a1a1a" stroke-width="0.25" transform="rotate(-90 374.90 112.50)">Cylinder pressure (MPa)</text>
<text x="703.60" y="96.00" font-size="12.7" text-anchor="middle" font-weight="normal" fill="#1a1a1a" stroke="#1a1a1a" stroke-width="0.25" transform="rotate(-90 703.60 96.00)">Heat release rate (J/°CA)</text>
<text x="532.00" y="237.40" font-size="12.4" text-anchor="middle" font-weight="normal" fill="#1a1a1a" stroke="#1a1a1a" stroke-width="0.25">Crank angle (°CA)</text>
<text x="403.10" y="18.90" font-size="11.5" text-anchor="start" font-weight="bold" fill="#111">(b) BMEP = 1.14 MPa</text>
<line x1="403.10" y1="28.60" x2="425.50" y2="28.60" stroke="#000000" stroke-width="1.5"/>
<text x="431.30" y="32.00" font-size="11.1" text-anchor="start" font-weight="bold" fill="#000000" transform="translate(431.30 32.00) scale(1 1.09) translate(-431.30 -32.00)">P0 D100</text>
<line x1="403.00" y1="42.50" x2="408.00" y2="42.50" stroke="#ff1a1a" stroke-width="1.5"/>
<line x1="412.70" y1="42.50" x2="417.80" y2="42.50" stroke="#ff1a1a" stroke-width="1.5"/>
<text x="431.30" y="45.90" font-size="11.1" text-anchor="start" font-weight="bold" fill="#ff1a1a" transform="translate(431.30 45.90) scale(1 1.09) translate(-431.30 -45.90)">P10 D90</text>
<line x1="402.90" y1="56.40" x2="405.40" y2="56.40" stroke="#1f52cc" stroke-width="1.5"/>
<line x1="407.40" y1="56.40" x2="409.90" y2="56.40" stroke="#1f52cc" stroke-width="1.5"/>
<line x1="411.90" y1="56.40" x2="414.40" y2="56.40" stroke="#1f52cc" stroke-width="1.5"/>
<line x1="416.40" y1="56.40" x2="418.90" y2="56.40" stroke="#1f52cc" stroke-width="1.5"/>
<line x1="420.90" y1="56.40" x2="423.40" y2="56.40" stroke="#1f52cc" stroke-width="1.5"/>
<text x="431.30" y="59.80" font-size="11.1" text-anchor="start" font-weight="bold" fill="#1f52cc" transform="translate(431.30 59.80) scale(1 1.09) translate(-431.30 -59.80)">P20 D80</text>
<line x1="402.80" y1="70.30" x2="409.10" y2="70.30" stroke="#137a13" stroke-width="1.5"/>
<line x1="411.60" y1="70.30" x2="412.90" y2="70.30" stroke="#137a13" stroke-width="1.5"/>
<line x1="415.50" y1="70.30" x2="421.00" y2="70.30" stroke="#137a13" stroke-width="1.5"/>
<line x1="423.50" y1="70.30" x2="424.80" y2="70.30" stroke="#137a13" stroke-width="1.5"/>
<text x="431.30" y="73.70" font-size="11.1" text-anchor="start" font-weight="bold" fill="#137a13" transform="translate(431.30 73.70) scale(1 1.09) translate(-431.30 -73.70)">P30 D70</text>
<line x1="406.60" y1="121.50" x2="429.30" y2="121.50" stroke="#505050" stroke-width="0.9"/>
<path d="M403.60,121.50 L408.80,119.80 L408.80,123.20 Z" fill="#111"/>
<line x1="630.90" y1="165.50" x2="654.90" y2="165.50" stroke="#505050" stroke-width="0.9"/>
<path d="M657.90,165.50 L652.70,163.80 L652.70,167.20 Z" fill="#111"/>
<path d="M392.60,168.40 C394.25,167.08 399.20,163.37 402.50,160.50 C405.80,157.63 408.98,154.62 412.40,151.20 C415.82,147.78 419.25,143.97 423.00,140.00 C426.75,136.03 431.73,130.92 434.90,127.40 C438.07,123.88 439.52,121.85 442.00,118.90 C444.48,115.95 447.55,112.35 449.80,109.70 C452.05,107.05 453.68,105.07 455.50,103.00 C457.32,100.93 458.97,99.08 460.70,97.30 C462.43,95.52 464.17,93.87 465.90,92.30 C467.63,90.73 469.50,89.28 471.10,87.90 C472.70,86.52 473.90,85.48 475.50,84.00 C477.10,82.52 478.97,80.50 480.70,79.00 C482.43,77.50 484.17,76.12 485.90,75.00 C487.63,73.88 489.23,73.20 491.10,72.30 C492.97,71.40 494.72,70.70 497.10,69.60 C499.48,68.50 502.30,67.30 505.40,65.70 C508.50,64.10 512.88,61.75 515.70,60.00 C518.52,58.25 520.57,56.43 522.30,55.20 C524.03,53.97 524.75,53.60 526.10,52.60 C527.45,51.60 528.83,50.47 530.40,49.20 C531.97,47.93 533.78,46.48 535.50,45.00 C537.22,43.52 538.97,41.87 540.70,40.30 C542.43,38.73 544.27,37.08 545.90,35.60 C547.53,34.12 548.77,32.77 550.50,31.40 C552.23,30.03 554.63,28.42 556.30,27.40 C557.97,26.38 559.08,25.90 560.50,25.30 C561.92,24.70 563.30,24.17 564.80,23.80 C566.30,23.43 567.60,23.13 569.50,23.10 C571.40,23.07 573.63,22.98 576.20,23.60 C578.77,24.22 582.20,25.53 584.90,26.80 C587.60,28.07 589.90,29.57 592.40,31.20 C594.90,32.83 597.33,34.77 599.90,36.60 C602.47,38.43 605.18,40.20 607.80,42.20 C610.42,44.20 612.63,46.10 615.60,48.60 C618.57,51.10 622.77,54.52 625.60,57.20 C628.43,59.88 630.60,62.57 632.60,64.70 C634.60,66.83 635.35,67.47 637.60,70.00 C639.85,72.53 643.85,77.37 646.10,79.90 C648.35,82.43 648.60,82.38 651.10,85.20 C653.60,88.02 657.82,93.20 661.10,96.80 C664.38,100.40 669.18,105.13 670.80,106.80" fill="none" stroke="#000000" stroke-width="1.3" stroke-linejoin="round" clip-path="url(#cb)"/>
<path d="M392.60,168.40 C394.25,167.08 399.20,163.37 402.50,160.50 C405.80,157.63 408.98,154.62 412.40,151.20 C415.82,147.78 419.25,143.97 423.00,140.00 C426.75,136.03 431.73,130.92 434.90,127.40 C438.07,123.88 439.52,121.85 442.00,118.90 C444.48,115.95 447.55,112.35 449.80,109.70 C452.05,107.05 453.68,105.07 455.50,103.00 C457.32,100.93 458.97,99.08 460.70,97.30 C462.43,95.52 464.17,93.87 465.90,92.30 C467.63,90.73 469.50,89.28 471.10,87.90 C472.70,86.52 473.90,85.48 475.50,84.00 C477.10,82.52 478.97,80.50 480.70,79.00 C482.43,77.50 484.17,76.12 485.90,75.00 C487.63,73.88 489.23,73.20 491.10,72.30 C492.97,71.40 494.72,70.70 497.10,69.60 C499.48,68.50 502.30,67.30 505.40,65.70 C508.50,64.10 512.88,61.75 515.70,60.00 C518.52,58.25 520.57,56.43 522.30,55.20 C524.03,53.97 524.75,53.60 526.10,52.60 C527.45,51.60 528.83,50.47 530.40,49.20 C531.97,47.93 533.78,46.48 535.50,45.00 C537.22,43.52 538.97,41.87 540.70,40.30 C542.43,38.73 544.18,37.05 545.90,35.60 C547.62,34.15 549.45,32.70 551.00,31.60 C552.55,30.50 553.87,29.72 555.20,29.00 C556.53,28.28 557.58,27.80 559.00,27.30 C560.42,26.80 562.20,26.25 563.70,26.00 C565.20,25.75 566.33,25.72 568.00,25.80 C569.67,25.88 572.03,26.17 573.70,26.50 C575.37,26.83 576.33,27.12 578.00,27.80 C579.67,28.48 581.30,29.32 583.70,30.60 C586.10,31.88 589.30,33.63 592.40,35.50 C595.50,37.37 598.97,39.38 602.30,41.80 C605.63,44.22 609.05,47.28 612.40,50.00 C615.75,52.72 618.87,55.08 622.40,58.10 C625.93,61.12 630.50,65.03 633.60,68.10 C636.70,71.17 638.85,74.10 641.00,76.50 C643.15,78.90 644.82,80.55 646.50,82.50 C648.18,84.45 649.52,86.37 651.10,88.20 C652.68,90.03 654.35,91.75 656.00,93.50 C657.65,95.25 658.53,96.17 661.00,98.70 C663.47,101.23 669.17,107.03 670.80,108.70" fill="none" stroke="#ff1a1a" stroke-width="1.4" stroke-dasharray="5.5 4.3" stroke-linejoin="round" clip-path="url(#cb)"/>
<path d="M392.60,168.40 C394.25,167.08 399.20,163.37 402.50,160.50 C405.80,157.63 408.98,154.62 412.40,151.20 C415.82,147.78 419.25,143.97 423.00,140.00 C426.75,136.03 431.73,130.92 434.90,127.40 C438.07,123.88 439.52,121.85 442.00,118.90 C444.48,115.95 447.55,112.35 449.80,109.70 C452.05,107.05 453.68,105.07 455.50,103.00 C457.32,100.93 458.97,99.08 460.70,97.30 C462.43,95.52 464.17,93.87 465.90,92.30 C467.63,90.73 469.50,89.28 471.10,87.90 C472.70,86.52 473.90,85.48 475.50,84.00 C477.10,82.52 478.97,80.50 480.70,79.00 C482.43,77.50 484.17,76.12 485.90,75.00 C487.63,73.88 489.23,73.33 491.10,72.30 C492.97,71.27 494.55,70.23 497.10,68.80 C499.65,67.37 503.12,65.50 506.40,63.70 C509.68,61.90 514.22,59.62 516.80,58.00 C519.38,56.38 520.45,55.25 521.90,54.00 C523.35,52.75 524.27,51.75 525.50,50.50 C526.73,49.25 527.63,47.90 529.30,46.50 C530.97,45.10 533.77,43.35 535.50,42.10 C537.23,40.85 538.12,40.13 539.70,39.00 C541.28,37.87 543.45,36.20 545.00,35.30 C546.55,34.40 547.82,34.10 549.00,33.60 C550.18,33.10 550.72,32.95 552.10,32.30 C553.48,31.65 555.65,30.30 557.30,29.70 C558.95,29.10 560.22,28.82 562.00,28.70 C563.78,28.58 565.83,28.68 568.00,29.00 C570.17,29.32 572.60,30.03 575.00,30.60 C577.40,31.17 579.92,31.37 582.40,32.40 C584.88,33.43 587.38,35.13 589.90,36.80 C592.42,38.47 594.78,40.32 597.50,42.40 C600.22,44.48 603.30,47.10 606.20,49.30 C609.10,51.50 612.00,53.32 614.90,55.60 C617.80,57.88 621.32,61.03 623.60,63.00 C625.88,64.97 626.20,64.98 628.60,67.40 C631.00,69.82 634.70,73.97 638.00,77.50 C641.30,81.03 644.73,84.85 648.40,88.60 C652.07,92.35 656.27,96.23 660.00,100.00 C663.73,103.77 669.00,109.33 670.80,111.20" fill="none" stroke="#1f52cc" stroke-width="1.4" stroke-dasharray="2.5 2.6" stroke-linejoin="round" clip-path="url(#cb)"/>
<path d="M392.60,168.40 C394.25,167.08 399.20,163.37 402.50,160.50 C405.80,157.63 408.98,154.62 412.40,151.20 C415.82,147.78 419.25,143.97 423.00,140.00 C426.75,136.03 431.73,130.92 434.90,127.40 C438.07,123.88 439.52,121.85 442.00,118.90 C444.48,115.95 447.55,112.35 449.80,109.70 C452.05,107.05 453.68,105.07 455.50,103.00 C457.32,100.93 458.97,99.08 460.70,97.30 C462.43,95.52 464.17,93.87 465.90,92.30 C467.63,90.73 469.50,89.28 471.10,87.90 C472.70,86.52 473.90,85.48 475.50,84.00 C477.10,82.52 478.97,80.50 480.70,79.00 C482.43,77.50 484.17,76.25 485.90,75.00 C487.63,73.75 488.90,72.97 491.10,71.50 C493.30,70.03 496.78,67.70 499.10,66.20 C501.42,64.70 503.10,63.62 505.00,62.50 C506.90,61.38 509.05,60.25 510.50,59.50 C511.95,58.75 512.37,58.75 513.70,58.00 C515.03,57.25 516.95,55.95 518.50,55.00 C520.05,54.05 521.72,53.20 523.00,52.30 C524.28,51.40 525.03,50.65 526.20,49.60 C527.37,48.55 528.62,47.17 530.00,46.00 C531.38,44.83 532.72,43.85 534.50,42.60 C536.28,41.35 538.95,39.60 540.70,38.50 C542.45,37.40 543.62,36.70 545.00,36.00 C546.38,35.30 547.47,35.02 549.00,34.30 C550.53,33.58 552.38,32.27 554.20,31.70 C556.02,31.13 558.27,31.05 559.90,30.90 C561.53,30.75 562.65,30.73 564.00,30.80 C565.35,30.87 566.58,31.03 568.00,31.30 C569.42,31.57 570.50,31.78 572.50,32.40 C574.50,33.02 577.52,33.83 580.00,35.00 C582.48,36.17 585.13,37.95 587.40,39.40 C589.67,40.85 591.92,42.67 593.60,43.70 C595.28,44.73 595.85,44.47 597.50,45.60 C599.15,46.73 601.42,48.83 603.50,50.50 C605.58,52.17 607.92,54.02 610.00,55.60 C612.08,57.18 613.93,58.43 616.00,60.00 C618.07,61.57 620.72,63.67 622.40,65.00 C624.08,66.33 623.83,65.75 626.10,68.00 C628.37,70.25 632.67,74.95 636.00,78.50 C639.33,82.05 642.43,85.47 646.10,89.30 C649.77,93.13 653.88,97.45 658.00,101.50 C662.12,105.55 668.67,111.58 670.80,113.60" fill="none" stroke="#137a13" stroke-width="1.4" stroke-dasharray="6.5 2.8 1.5 2.8" stroke-linejoin="round" clip-path="url(#cb)"/>
<path d="M392.60,205.30 C396.32,205.23 409.00,204.95 414.90,204.90 C420.80,204.85 424.98,205.18 428.00,205.00 C431.02,204.82 431.62,204.42 433.00,203.80 C434.38,203.18 435.33,202.20 436.30,201.30 C437.27,200.40 437.97,199.17 438.80,198.40 C439.63,197.63 440.55,197.05 441.30,196.70 C442.05,196.35 442.62,196.23 443.30,196.30 C443.98,196.37 444.63,196.55 445.40,197.10 C446.17,197.65 447.07,198.83 447.90,199.60 C448.73,200.37 449.43,201.15 450.40,201.70 C451.37,202.25 452.32,202.58 453.70,202.90 C455.08,203.22 456.83,203.53 458.70,203.60 C460.57,203.67 462.20,203.48 464.90,203.30 C467.60,203.12 472.38,202.83 474.90,202.50 C477.42,202.17 478.40,201.75 480.00,201.30 C481.60,200.85 483.25,200.38 484.50,199.80 C485.75,199.22 486.55,198.57 487.50,197.80 C488.45,197.03 489.37,196.12 490.20,195.20 C491.03,194.28 491.78,193.23 492.50,192.30 C493.22,191.37 493.50,191.15 494.50,189.60 C495.50,188.05 497.25,185.10 498.50,183.00 C499.75,180.90 500.78,179.03 502.00,177.00 C503.22,174.97 504.57,173.10 505.80,170.80 C507.03,168.50 508.20,165.70 509.40,163.20 C510.60,160.70 511.90,158.00 513.00,155.80 C514.10,153.60 514.67,152.55 516.00,150.00 C517.33,147.45 519.62,143.08 521.00,140.50 C522.38,137.92 523.13,136.75 524.30,134.50 C525.47,132.25 526.85,129.42 528.00,127.00 C529.15,124.58 530.12,122.00 531.20,120.00 C532.28,118.00 533.47,116.37 534.50,115.00 C535.53,113.63 535.88,113.05 537.40,111.80 C538.92,110.55 541.83,108.47 543.60,107.50 C545.37,106.53 546.53,106.38 548.00,106.00 C549.47,105.62 551.07,105.15 552.40,105.20 C553.73,105.25 554.77,105.82 556.00,106.30 C557.23,106.78 557.50,106.97 559.80,108.10 C562.10,109.23 566.93,111.40 569.80,113.10 C572.67,114.80 574.70,116.38 577.00,118.30 C579.30,120.22 581.67,122.30 583.60,124.60 C585.53,126.90 586.93,129.47 588.60,132.10 C590.27,134.73 591.95,137.82 593.60,140.40 C595.25,142.98 596.52,145.00 598.50,147.60 C600.48,150.20 603.05,153.52 605.50,156.00 C607.95,158.48 610.88,160.68 613.20,162.50 C615.52,164.32 617.05,165.50 619.40,166.90 C621.75,168.30 624.78,169.50 627.30,170.90 C629.82,172.30 632.08,174.08 634.50,175.30 C636.92,176.52 639.38,177.37 641.80,178.20 C644.22,179.03 646.58,179.70 649.00,180.30 C651.42,180.90 653.87,181.18 656.30,181.80 C658.73,182.42 661.18,183.40 663.60,184.00 C666.02,184.60 669.60,185.17 670.80,185.40" fill="none" stroke="#000000" stroke-width="1.3" stroke-linejoin="round" clip-path="url(#cb)"/>
<path d="M392.60,205.30 C396.32,205.23 409.00,204.95 414.90,204.90 C420.80,204.85 424.98,205.18 428.00,205.00 C431.02,204.82 431.62,204.42 433.00,203.80 C434.38,203.18 435.37,202.07 436.30,201.30 C437.23,200.53 437.92,199.68 438.60,199.20 C439.28,198.72 439.75,198.53 440.40,198.40 C441.05,198.27 441.73,198.33 442.50,198.40 C443.27,198.47 444.10,198.48 445.00,198.80 C445.90,199.12 447.00,199.77 447.90,200.30 C448.80,200.83 449.43,201.53 450.40,202.00 C451.37,202.47 452.32,202.83 453.70,203.10 C455.08,203.37 456.83,203.57 458.70,203.60 C460.57,203.63 462.20,203.48 464.90,203.30 C467.60,203.12 472.52,202.83 474.90,202.50 C477.28,202.17 477.73,201.75 479.20,201.30 C480.67,200.85 482.45,200.38 483.70,199.80 C484.95,199.22 485.75,198.57 486.70,197.80 C487.65,197.03 488.57,196.12 489.40,195.20 C490.23,194.28 490.98,193.23 491.70,192.30 C492.42,191.37 492.70,191.15 493.70,189.60 C494.70,188.05 496.45,185.10 497.70,183.00 C498.95,180.90 499.98,179.03 501.20,177.00 C502.42,174.97 503.77,173.10 505.00,170.80 C506.23,168.50 507.40,165.70 508.60,163.20 C509.80,160.70 511.10,158.00 512.20,155.80 C513.30,153.60 513.87,152.55 515.20,150.00 C516.53,147.45 518.82,143.08 520.20,140.50 C521.58,137.92 522.33,136.75 523.50,134.50 C524.67,132.25 526.05,129.42 527.20,127.00 C528.35,124.58 529.27,121.83 530.40,120.00 C531.53,118.17 532.57,117.42 534.00,116.00 C535.43,114.58 537.50,112.50 539.00,111.50 C540.50,110.50 541.50,110.38 543.00,110.00 C544.50,109.62 546.43,109.37 548.00,109.20 C549.57,109.03 550.73,108.90 552.40,109.00 C554.07,109.10 555.90,109.32 558.00,109.80 C560.10,110.28 563.00,111.12 565.00,111.90 C567.00,112.68 568.42,113.45 570.00,114.50 C571.58,115.55 573.08,116.87 574.50,118.20 C575.92,119.53 577.12,120.73 578.50,122.50 C579.88,124.27 581.12,126.10 582.80,128.80 C584.48,131.50 586.97,136.25 588.60,138.70 C590.23,141.15 591.10,141.82 592.60,143.50 C594.10,145.18 596.12,147.18 597.60,148.80 C599.08,150.42 600.15,151.73 601.50,153.20 C602.85,154.67 604.48,156.25 605.70,157.60 C606.92,158.95 607.67,160.15 608.80,161.30 C609.93,162.45 611.15,163.57 612.50,164.50 C613.85,165.43 614.82,165.77 616.90,166.90 C618.98,168.03 621.82,169.55 625.00,171.30 C628.18,173.05 632.48,175.77 636.00,177.40 C639.52,179.03 642.72,180.00 646.10,181.10 C649.48,182.20 652.90,183.03 656.30,184.00 C659.70,184.97 664.08,186.27 666.50,186.90 C668.92,187.53 670.08,187.65 670.80,187.80" fill="none" stroke="#ff1a1a" stroke-width="1.4" stroke-dasharray="5.5 4.3" stroke-linejoin="round" clip-path="url(#cb)"/>
<path d="M392.60,205.30 C396.32,205.23 409.00,204.95 414.90,204.90 C420.80,204.85 424.98,205.18 428.00,205.00 C431.02,204.82 431.62,204.42 433.00,203.80 C434.38,203.18 435.33,202.20 436.30,201.30 C437.27,200.40 437.97,199.17 438.80,198.40 C439.63,197.63 440.55,197.05 441.30,196.70 C442.05,196.35 442.62,196.23 443.30,196.30 C443.98,196.37 444.63,196.55 445.40,197.10 C446.17,197.65 447.07,198.83 447.90,199.60 C448.73,200.37 449.43,201.15 450.40,201.70 C451.37,202.25 452.32,202.58 453.70,202.90 C455.08,203.22 456.83,203.53 458.70,203.60 C460.57,203.67 462.20,203.48 464.90,203.30 C467.60,203.12 472.63,202.83 474.90,202.50 C477.17,202.17 477.15,201.75 478.50,201.30 C479.85,200.85 481.75,200.38 483.00,199.80 C484.25,199.22 485.05,198.57 486.00,197.80 C486.95,197.03 487.87,196.12 488.70,195.20 C489.53,194.28 490.28,193.23 491.00,192.30 C491.72,191.37 492.00,191.15 493.00,189.60 C494.00,188.05 495.75,185.10 497.00,183.00 C498.25,180.90 499.28,179.03 500.50,177.00 C501.72,174.97 503.07,173.10 504.30,170.80 C505.53,168.50 506.70,165.70 507.90,163.20 C509.10,160.70 510.40,158.00 511.50,155.80 C512.60,153.60 513.17,152.55 514.50,150.00 C515.83,147.45 518.12,143.08 519.50,140.50 C520.88,137.92 521.63,136.75 522.80,134.50 C523.97,132.25 525.35,129.42 526.50,127.00 C527.65,124.58 528.62,121.67 529.70,120.00 C530.78,118.33 531.78,118.08 533.00,117.00 C534.22,115.92 535.83,114.25 537.00,113.50 C538.17,112.75 538.67,112.72 540.00,112.50 C541.33,112.28 543.33,112.20 545.00,112.20 C546.67,112.20 548.33,112.37 550.00,112.50 C551.67,112.63 553.33,112.80 555.00,113.00 C556.67,113.20 558.33,113.32 560.00,113.70 C561.67,114.08 563.33,114.67 565.00,115.30 C566.67,115.93 568.28,116.50 570.00,117.50 C571.72,118.50 573.63,119.72 575.30,121.30 C576.97,122.88 578.48,124.78 580.00,127.00 C581.52,129.22 582.70,132.23 584.40,134.60 C586.10,136.97 588.67,139.43 590.20,141.20 C591.73,142.97 592.47,143.72 593.60,145.20 C594.73,146.68 595.72,148.35 597.00,150.10 C598.28,151.85 599.75,153.73 601.30,155.70 C602.85,157.67 604.53,159.93 606.30,161.90 C608.07,163.87 609.92,166.05 611.90,167.50 C613.88,168.95 616.25,169.55 618.20,170.60 C620.15,171.65 620.88,172.30 623.60,173.80 C626.32,175.30 630.98,177.90 634.50,179.60 C638.02,181.30 641.55,182.78 644.70,184.00 C647.85,185.22 650.50,186.07 653.40,186.90 C656.30,187.73 659.20,188.28 662.10,189.00 C665.00,189.72 669.35,190.83 670.80,191.20" fill="none" stroke="#1f52cc" stroke-width="1.4" stroke-dasharray="2.5 2.6" stroke-linejoin="round" clip-path="url(#cb)"/>
<path d="M392.60,205.30 C396.32,205.23 409.00,204.95 414.90,204.90 C420.80,204.85 424.98,205.18 428.00,205.00 C431.02,204.82 431.62,204.37 433.00,203.80 C434.38,203.23 435.33,202.33 436.30,201.60 C437.27,200.87 437.83,200.00 438.80,199.40 C439.77,198.80 441.00,198.03 442.10,198.00 C443.20,197.97 444.43,198.77 445.40,199.20 C446.37,199.63 447.07,200.10 447.90,200.60 C448.73,201.10 449.43,201.77 450.40,202.20 C451.37,202.63 452.32,202.97 453.70,203.20 C455.08,203.43 456.83,203.58 458.70,203.60 C460.57,203.62 462.20,203.48 464.90,203.30 C467.60,203.12 472.82,202.83 474.90,202.50 C476.98,202.17 476.23,201.75 477.40,201.30 C478.57,200.85 480.65,200.38 481.90,199.80 C483.15,199.22 483.95,198.57 484.90,197.80 C485.85,197.03 486.77,196.12 487.60,195.20 C488.43,194.28 489.18,193.23 489.90,192.30 C490.62,191.37 490.90,191.15 491.90,189.60 C492.90,188.05 494.65,185.10 495.90,183.00 C497.15,180.90 498.18,179.03 499.40,177.00 C500.62,174.97 501.97,173.10 503.20,170.80 C504.43,168.50 505.60,165.70 506.80,163.20 C508.00,160.70 509.30,158.00 510.40,155.80 C511.50,153.60 512.07,152.55 513.40,150.00 C514.73,147.45 517.02,143.08 518.40,140.50 C519.78,137.92 520.53,136.75 521.70,134.50 C522.87,132.25 524.27,129.08 525.40,127.00 C526.53,124.92 527.40,123.50 528.50,122.00 C529.60,120.50 530.75,119.17 532.00,118.00 C533.25,116.83 534.67,115.77 536.00,115.00 C537.33,114.23 538.67,113.67 540.00,113.40 C541.33,113.13 542.67,113.30 544.00,113.40 C545.33,113.50 546.33,113.73 548.00,114.00 C549.67,114.27 552.00,114.63 554.00,115.00 C556.00,115.37 558.17,115.70 560.00,116.20 C561.83,116.70 563.33,117.28 565.00,118.00 C566.67,118.72 568.50,119.58 570.00,120.50 C571.50,121.42 572.57,121.98 574.00,123.50 C575.43,125.02 577.00,127.48 578.60,129.60 C580.20,131.72 581.93,133.72 583.60,136.20 C585.27,138.68 587.20,142.40 588.60,144.50 C590.00,146.60 590.82,147.25 592.00,148.80 C593.18,150.35 594.45,152.23 595.70,153.80 C596.95,155.37 598.03,156.63 599.50,158.20 C600.97,159.77 602.63,161.43 604.50,163.20 C606.37,164.97 609.12,167.40 610.70,168.80 C612.28,170.20 612.20,170.40 614.00,171.60 C615.80,172.80 618.57,174.42 621.50,176.00 C624.43,177.58 628.22,179.65 631.60,181.10 C634.98,182.55 638.40,183.62 641.80,184.70 C645.20,185.78 648.62,186.63 652.00,187.60 C655.38,188.57 658.97,189.65 662.10,190.50 C665.23,191.35 669.35,192.33 670.80,192.70" fill="none" stroke="#137a13" stroke-width="1.4" stroke-dasharray="6.5 2.8 1.5 2.8" stroke-linejoin="round" clip-path="url(#cb)"/>
</svg>
</body></html>
